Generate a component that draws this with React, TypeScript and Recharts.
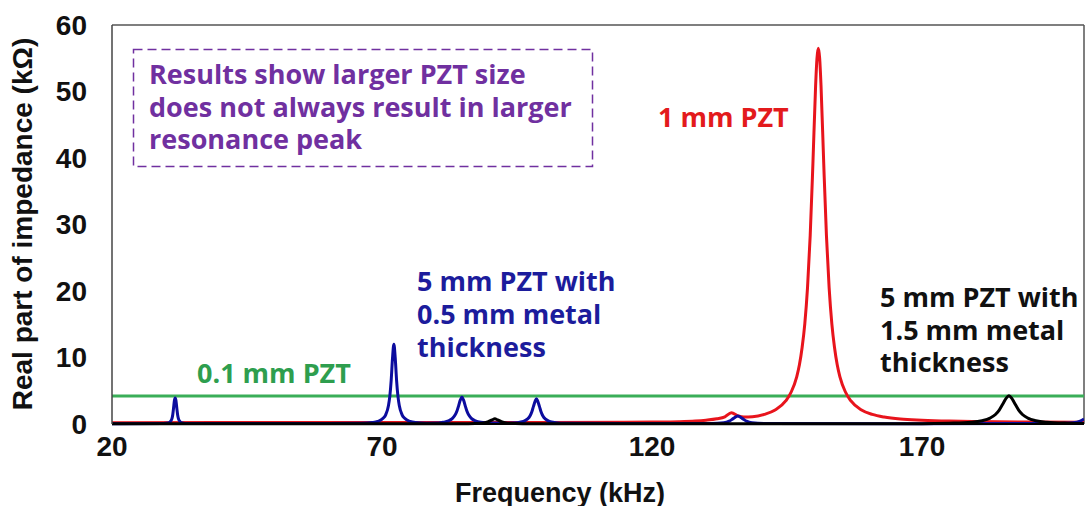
import React from "react";
import { LineChart, Line, XAxis, YAxis, ReferenceLine } from "recharts";

const freqTicks = [20, 70, 120, 170];
const impTicks = [0, 10, 20, 30, 40, 50, 60];

// 0.1 mm PZT (green)
const greenSeries = [
  { f: 20, v: 4.2 },
  { f: 200, v: 4.2 },
];

// 1 mm PZT (red)
const redSeries = [
  { f: 20, v: 0.2 }, { f: 60, v: 0.22 }, { f: 100, v: 0.24 }, { f: 115, v: 0.27 },
  { f: 120, v: 0.3 }, { f: 125, v: 0.35 }, { f: 128, v: 0.44 }, { f: 130, v: 0.57 },
  { f: 132, v: 0.78 }, { f: 133.5, v: 1.08 }, { f: 134.7, v: 1.7 }, { f: 136, v: 1.2 },
  { f: 137, v: 1.05 }, { f: 138.6, v: 1.1 }, { f: 140.8, v: 1.45 }, { f: 142.8, v: 2.1 },
  { f: 144.8, v: 3.5 }, { f: 145.8, v: 4.85 }, { f: 146.8, v: 7.1 }, { f: 147.3, v: 8.9 },
  { f: 147.8, v: 11.5 }, { f: 148.3, v: 15.1 }, { f: 148.8, v: 20.5 }, { f: 149.3, v: 28.4 },
  { f: 149.8, v: 39.2 }, { f: 150.3, v: 50.9 }, { f: 150.55, v: 55 }, { f: 150.8, v: 56.5 },
  { f: 151.05, v: 55 }, { f: 151.3, v: 50.9 }, { f: 151.8, v: 39.2 }, { f: 152.3, v: 28.4 },
  { f: 152.8, v: 20.5 }, { f: 153.3, v: 15.1 }, { f: 153.8, v: 11.5 }, { f: 154.3, v: 8.9 },
  { f: 154.8, v: 7.1 }, { f: 155.8, v: 4.85 }, { f: 156.8, v: 3.5 }, { f: 158.8, v: 2.1 },
  { f: 160.8, v: 1.44 }, { f: 163, v: 1.04 }, { f: 166, v: 0.74 }, { f: 170, v: 0.57 },
  { f: 175, v: 0.44 }, { f: 180, v: 0.37 }, { f: 190, v: 0.3 }, { f: 200, v: 0.27 },
];

// 5 mm PZT with 0.5 mm metal thickness (blue)
const blueSeries = [
  { f: 20, v: 0.05 }, { f: 29.5, v: 0.07 }, { f: 30.4, v: 0.15 }, { f: 30.8, v: 0.35 },
  { f: 31.1, v: 0.8 }, { f: 31.25, v: 1.4 }, { f: 31.4, v: 2.4 }, { f: 31.55, v: 3.5 },
  { f: 31.7, v: 3.9 }, { f: 31.85, v: 3.5 }, { f: 32.0, v: 2.4 }, { f: 32.15, v: 1.4 },
  { f: 32.3, v: 0.8 }, { f: 32.6, v: 0.35 }, { f: 33.0, v: 0.15 }, { f: 34, v: 0.07 },
  { f: 60, v: 0.08 }, { f: 66.2, v: 0.1 }, { f: 68.2, v: 0.22 }, { f: 69.2, v: 0.39 },
  { f: 70.2, v: 0.85 }, { f: 70.7, v: 1.42 }, { f: 71.2, v: 2.79 }, { f: 71.45, v: 4.2 },
  { f: 71.7, v: 6.57 }, { f: 71.95, v: 9.94 }, { f: 72.2, v: 12.0 }, { f: 72.45, v: 9.94 },
  { f: 72.7, v: 6.57 }, { f: 72.95, v: 4.2 }, { f: 73.2, v: 2.79 }, { f: 73.7, v: 1.42 },
  { f: 74.2, v: 0.85 }, { f: 75.2, v: 0.39 }, { f: 76.2, v: 0.22 }, { f: 78.2, v: 0.12 },
  { f: 80.5, v: 0.14 }, { f: 81.3, v: 0.25 }, { f: 82.3, v: 0.46 }, { f: 83.0, v: 0.8 },
  { f: 83.5, v: 1.3 }, { f: 83.9, v: 2.0 }, { f: 84.2, v: 2.77 }, { f: 84.5, v: 3.6 },
  { f: 84.8, v: 4.05 }, { f: 85.1, v: 3.6 }, { f: 85.4, v: 2.77 }, { f: 85.7, v: 2.0 },
  { f: 86.1, v: 1.3 }, { f: 86.6, v: 0.8 }, { f: 87.3, v: 0.46 }, { f: 88.3, v: 0.25 },
  { f: 90, v: 0.14 }, { f: 93, v: 0.12 }, { f: 95, v: 0.2 }, { f: 96.2, v: 0.38 },
  { f: 96.9, v: 0.72 }, { f: 97.4, v: 1.2 }, { f: 97.75, v: 1.85 }, { f: 98.05, v: 2.65 },
  { f: 98.35, v: 3.4 }, { f: 98.6, v: 3.8 }, { f: 98.85, v: 3.4 }, { f: 99.15, v: 2.65 },
  { f: 99.45, v: 1.85 }, { f: 99.8, v: 1.2 }, { f: 100.3, v: 0.72 }, { f: 101.0, v: 0.38 },
  { f: 102.2, v: 0.2 }, { f: 104, v: 0.1 }, { f: 115, v: 0.06 }, { f: 131, v: 0.07 },
  { f: 133.3, v: 0.18 }, { f: 134.3, v: 0.42 }, { f: 135.1, v: 0.85 }, { f: 135.9, v: 1.2 },
  { f: 136.7, v: 0.85 }, { f: 137.5, v: 0.42 }, { f: 138.5, v: 0.18 }, { f: 141, v: 0.07 },
  { f: 170, v: 0.05 }, { f: 195, v: 0.08 }, { f: 198, v: 0.2 }, { f: 199.3, v: 0.45 },
  { f: 200, v: 0.75 },
];

// 5 mm PZT with 1.5 mm metal thickness (black)
const blackSeries = [
  { f: 20, v: 0.03 }, { f: 86, v: 0.05 }, { f: 88.5, v: 0.12 }, { f: 89.7, v: 0.35 },
  { f: 90.4, v: 0.62 }, { f: 90.9, v: 0.78 }, { f: 91.4, v: 0.62 }, { f: 92.1, v: 0.35 },
  { f: 93.3, v: 0.12 }, { f: 96, v: 0.05 }, { f: 170, v: 0.05 }, { f: 175, v: 0.12 },
  { f: 179.1, v: 0.26 }, { f: 181.1, v: 0.48 }, { f: 182.6, v: 0.88 }, { f: 183.6, v: 1.43 },
  { f: 184.3, v: 2.1 }, { f: 185.1, v: 3.2 }, { f: 185.6, v: 3.9 }, { f: 186.1, v: 4.25 },
  { f: 186.6, v: 3.9 }, { f: 187.1, v: 3.2 }, { f: 187.9, v: 2.1 }, { f: 188.6, v: 1.43 },
  { f: 189.6, v: 0.88 }, { f: 191.1, v: 0.48 }, { f: 193.1, v: 0.26 }, { f: 197, v: 0.12 },
  { f: 200, v: 0.08 },
];

const purpleNote = [
  "Results show larger PZT size",
  "does not always result in larger",
  "resonance peak",
];
const blueNote = ["5 mm PZT with", "0.5 mm metal", "thickness"];
const blackNote = ["5 mm PZT with", "1.5 mm metal", "thickness"];

const axisFont = "'Liberation Sans', Arial, sans-serif";
const noteFont = "'Open Sans', 'Noto Sans', sans-serif";

export default function App() {
  return (
    <div style={{ position: "absolute", left: 0, top: 0, width: 1087, height: 506, background: "#fff" }}>
      <LineChart
        width={1087}
        height={506}
        margin={{ top: 25, right: 3, left: 0, bottom: 0 }}
      >
        <XAxis
          dataKey="f"
          type="number"
          domain={[20, 200]}
          ticks={freqTicks}
          interval={0}
          allowDataOverflow
          height={82}
          tickLine={false}
          tickSize={0}
          tickMargin={12}
          axisLine={{ stroke: "#000", strokeWidth: 2 }}
          tick={{ fill: "#111", fontSize: 28, fontWeight: "bold", fontFamily: axisFont }}
        />
        <YAxis
          type="number"
          domain={[0, 60]}
          ticks={impTicks}
          interval={0}
          width={112}
          tickLine={false}
          tickSize={0}
          tickMargin={25}
          axisLine={{ stroke: "#444", strokeWidth: 1.5 }}
          tick={{ fill: "#111", fontSize: 28, fontWeight: "bold", fontFamily: axisFont }}
        />
        <ReferenceLine y={60} stroke="#555" strokeWidth={1.5} />
        <ReferenceLine x={200} stroke="#555" strokeWidth={1.5} />
        <Line data={greenSeries} dataKey="v" type="linear" stroke="#3aae58" strokeWidth={3} dot={false} isAnimationActive={false} />
        <Line data={redSeries} dataKey="v" type="monotone" stroke="#e8141c" strokeWidth={3} dot={false} isAnimationActive={false} />
        <Line data={blueSeries} dataKey="v" type="monotone" stroke="#0c0c9e" strokeWidth={3} dot={false} isAnimationActive={false} />
        <Line data={blackSeries} dataKey="v" type="monotone" stroke="#000" strokeWidth={3} dot={false} isAnimationActive={false} />
      </LineChart>
      <svg
        width={1087}
        height={506}
        style={{ position: "absolute", left: 0, top: 0, pointerEvents: "none" }}
      >
        <rect x={133.5} y={49.5} width={459} height={117} fill="none" stroke="#7030a0" strokeWidth={1.5} strokeDasharray="9 5" />
        {purpleNote.map((t, i) => (
          <text key={t} x={149} y={84 + i * 32.5} fill="#7030a0" fontSize={27} fontWeight="bold" fontFamily={noteFont}>{t}</text>
        ))}
        <text x={658} y={127} fill="#e31a1c" fontSize={27} fontWeight="bold" fontFamily={noteFont}>1 mm PZT</text>
        <text x={197} y={383} fill="#2e9e4e" fontSize={27} fontWeight="bold" fontFamily={noteFont}>0.1 mm PZT</text>
        {blueNote.map((t, i) => (
          <text key={t} x={417} y={291 + i * 33} fill="#1c1c9c" fontSize={27} fontWeight="bold" fontFamily={noteFont}>{t}</text>
        ))}
        {blackNote.map((t, i) => (
          <text key={t} x={880} y={307 + i * 32.5} fill="#111" fontSize={27} fontWeight="bold" fontFamily={noteFont}>{t}</text>
        ))}
        <text x={560} y={502} textAnchor="middle" fill="#111" fontSize={27} fontWeight="bold" fontFamily={axisFont}>Frequency (kHz)</text>
        <text x={32} y={224} textAnchor="middle" transform="rotate(-90, 32, 224)" fill="#111" fontSize={28} fontWeight="bold" fontFamily={axisFont}>Real part of impedance (kΩ)</text>
      </svg>
    </div>
  );
}
